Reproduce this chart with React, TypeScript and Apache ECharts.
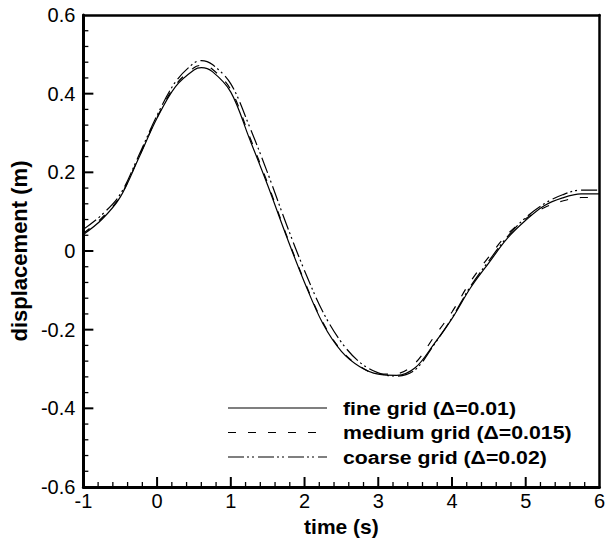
import React, { useEffect, useRef } from "react";
import * as echarts from "echarts";

const timeValues = [-1, -0.75, -0.5, -0.25, 0, 0.25, 0.5, 0.6, 0.75, 1, 1.25, 1.5, 1.75, 2, 2.25, 2.5, 2.75, 3, 3.25, 3.5, 3.75, 4, 4.25, 4.5, 4.75, 5, 5.25, 5.5, 5.75, 6];

const fineValues = [0.042, 0.08, 0.137, 0.236, 0.338, 0.418, 0.46, 0.466, 0.456, 0.404, 0.287, 0.167, 0.04, -0.08, -0.185, -0.255, -0.294, -0.313, -0.316, -0.297, -0.238, -0.172, -0.094, -0.03, 0.032, 0.078, 0.115, 0.135, 0.145, 0.145];

const mediumValues = [0.045, 0.084, 0.139, 0.238, 0.34, 0.422, 0.466, 0.472, 0.462, 0.41, 0.293, 0.172, 0.043, -0.077, -0.182, -0.253, -0.293, -0.313, -0.312, -0.285, -0.22, -0.155, -0.078, -0.015, 0.042, 0.082, 0.11, 0.127, 0.136, 0.136];

const coarseValues = [0.055, 0.092, 0.144, 0.242, 0.345, 0.43, 0.478, 0.484, 0.474, 0.425, 0.318, 0.198, 0.07, -0.05, -0.155, -0.232, -0.283, -0.31, -0.318, -0.302, -0.24, -0.17, -0.09, -0.025, 0.036, 0.085, 0.12, 0.143, 0.155, 0.155];

const seriesNames = ["fine grid (\u0394=0.01)", "medium grid (\u0394=0.015)", "coarse grid (\u0394=0.02)"];
const seriesDashes: any[] = ["solid", [8, 12], [16, 3, 2, 3, 2, 4]];

const xTitle = "time (s)";
const yTitle = "displacement (m)";

const X_MIN = -1;
const X_MAX = 6;
const X_STEP = 1;
const Y_MIN = -0.6;
const Y_MAX = 0.6;
const Y_STEP = 0.2;
const MINOR_DIVS = 5;

const FONT = '"Liberation Sans", Arial, Helvetica, sans-serif';

function tickList(min: number, max: number, step: number) {
  const out: number[][] = [];
  const n = Math.round((max - min) / step);
  for (let i = 0; i < n; i++) {
    for (let k = 0; k < MINOR_DIVS; k++) {
      if (i === 0 && k === 0) continue;
      const v = min + i * step + (k * step) / MINOR_DIVS;
      out.push([Math.round(v * 1e6) / 1e6, k === 0 ? 1 : 0]);
    }
  }
  return out;
}

function borderAxisParts() {
  return {
    axisLine: { show: true, onZero: false, lineStyle: { color: "#000", width: 2.5 } },
    axisTick: { show: false },
    minorTick: { show: false },
    axisLabel: { show: false },
    splitLine: { show: false },
  };
}

export default function App() {
  const ref = useRef<HTMLDivElement>(null);
  useEffect(() => {
    if (!ref.current) return;
    const chart = echarts.init(ref.current, null, { renderer: "svg" });
    const allValues = [fineValues, mediumValues, coarseValues];
    const series: any[] = allValues.map((vals, i) => ({
      name: seriesNames[i],
      type: "line",
      xAxisIndex: 0,
      yAxisIndex: 0,
      data: timeValues.map((t, j) => [t, vals[j]]),
      showSymbol: false,
      smooth: 0.35,
      lineStyle: { color: "#000", width: 1.2, type: seriesDashes[i] },
      z: 3,
    }));
    const legendRowsY = [408, 432.5, 457];
    const legendGraphic: any[] = [];
    seriesNames.forEach((n, i) => {
      legendGraphic.push({
        type: "line",
        shape: { x1: 228, y1: legendRowsY[i], x2: 327, y2: legendRowsY[i] },
        style: {
          stroke: "#000",
          lineWidth: 1.2,
          lineDash: i === 0 ? null : seriesDashes[i],
        },
      });
      legendGraphic.push({
        type: "text",
        x: 343,
        y: legendRowsY[i],
        scaleX: 1.12,
        style: {
          text: n,
          font: `bold 19px ${FONT}`,
          fill: "#000",
          verticalAlign: "middle",
          align: "left",
        },
      });
    });
    chart.setOption({
      animation: false,
      backgroundColor: "#fff",
      grid: { left: 78, right: 7, top: 15, bottom: 51 },
      xAxis: [
        {
          type: "value",
          position: "bottom",
          min: X_MIN,
          max: X_MAX,
          interval: X_STEP,
          name: xTitle,
          nameLocation: "middle",
          nameGap: 29,
          nameTextStyle: { fontFamily: FONT, fontSize: 21, fontWeight: "bold", color: "#000" },
          axisLine: { show: true, onZero: false, lineStyle: { color: "#000", width: 3 } },
          axisTick: { show: false },
          minorTick: { show: false },
          splitLine: { show: false },
          axisLabel: { fontFamily: FONT, fontSize: 20, color: "#000", margin: 4 },
        },
        { type: "value", position: "top", min: X_MIN, max: X_MAX, interval: X_STEP, ...borderAxisParts() },
      ],
      yAxis: [
        {
          type: "value",
          position: "left",
          min: Y_MIN,
          max: Y_MAX,
          interval: Y_STEP,
          name: yTitle,
          nameLocation: "middle",
          nameGap: 36,
          nameTextStyle: { fontFamily: FONT, fontSize: 22, fontWeight: "bold", color: "#000" },
          axisLine: { show: true, onZero: false, lineStyle: { color: "#000", width: 3 } },
          axisTick: { show: false },
          minorTick: { show: false },
          splitLine: { show: false },
          axisLabel: {
            fontFamily: FONT,
            fontSize: 20,
            color: "#000",
            margin: 8,
            formatter: (v: number) => String(Math.round(v * 10) / 10),
          },
        },
        { type: "value", position: "right", min: Y_MIN, max: Y_MAX, interval: Y_STEP, ...borderAxisParts() },
      ],
      series,
    });

    // Inward axis ticks, positioned through the chart's own axis scales.
    const toX = (v: number) => Number(chart.convertToPixel({ xAxisIndex: 0 } as any, v as any));
    const toY = (v: number) => Number(chart.convertToPixel({ yAxisIndex: 0 } as any, v as any));
    const tickGraphic: any[] = [];
    const yBase = toY(Y_MIN);
    const xBase = toX(X_MIN);
    tickList(X_MIN, X_MAX, X_STEP).forEach(([v, major]) => {
      const px = toX(v);
      if (!isFinite(px) || !isFinite(yBase)) return;
      tickGraphic.push({
        type: "line",
        silent: true,
        z: 100,
        shape: { x1: px, y1: yBase, x2: px, y2: yBase - (major ? 10 : 5) },
        style: { stroke: "#000", lineWidth: major ? 2 : 1.3 },
      });
    });
    tickList(Y_MIN, Y_MAX, Y_STEP).forEach(([v, major]) => {
      const py = toY(v);
      if (!isFinite(py) || !isFinite(xBase)) return;
      tickGraphic.push({
        type: "line",
        silent: true,
        z: 100,
        shape: { x1: xBase, y1: py, x2: xBase + (major ? 10 : 5), y2: py },
        style: { stroke: "#000", lineWidth: major ? 2 : 1.3 },
      });
    });
    chart.setOption({ graphic: [...legendGraphic, ...tickGraphic] });
    return () => chart.dispose();
  }, []);
  return (
    <div
      ref={ref}
      style={{ position: "fixed", left: 0, top: 0, width: 608, height: 542, background: "#fff" }}
    />
  );
}
